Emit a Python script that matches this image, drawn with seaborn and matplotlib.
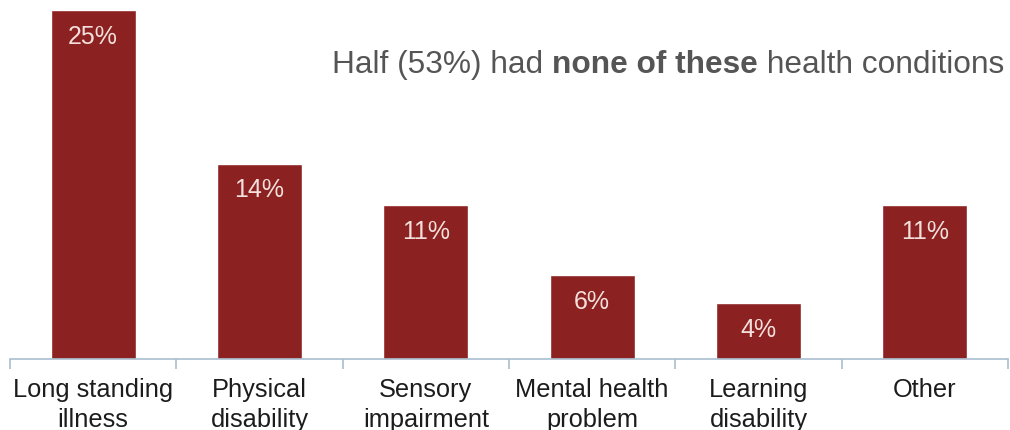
import matplotlib
matplotlib.use("Agg")
import matplotlib.pyplot as plt
import seaborn as sns
import pandas as pd
from matplotlib.ticker import FixedLocator

categories = ["Long standing\nillness", "Physical\ndisability", "Sensory\nimpairment",
              "Mental health\nproblem", "Learning\ndisability", "Other"]
values = [25, 14, 11, 6, 4, 11]
value_labels = ["25%", "14%", "11%", "6%", "4%", "11%"]
note_parts = [("Half (53%) had ", "normal"), ("none of these", "bold"), (" health conditions", "normal")]

sns.set_theme(style="white")
plt.rcParams["font.family"] = ["Liberation Sans", "DejaVu Sans"]

BAR = "#8C2121"
AXIS = "#A9BFD0"

df = pd.DataFrame({"category": categories, "value": values})

fig = plt.figure(figsize=(10.10, 4.31), dpi=100)
ax = fig.add_axes([10 / 1010, (431 - 360) / 431, 998 / 1010, (360 - 11) / 431])

sns.barplot(data=df, x="category", y="value", color=BAR, width=0.51,
            saturation=1, ax=ax)

ax.set_xlim(-0.5, len(categories) - 0.5)
ax.set_ylim(0, 25)
ax.set_xlabel("")
ax.set_ylabel("")
ax.set_yticks([])
for side in ("top", "right", "left"):
    ax.spines[side].set_visible(False)
ax.spines["bottom"].set_color(AXIS)
ax.spines["bottom"].set_linewidth(1.2)

ax.tick_params(axis="x", which="major", length=0, pad=13, labelsize=18.3,
               labelcolor="#1c1c1c")
for lbl in ax.get_xticklabels():
    lbl.set_linespacing(1.3)
ax.xaxis.set_minor_locator(FixedLocator([i - 0.5 for i in range(len(categories) + 1)]))
ax.tick_params(axis="x", which="minor", length=7, width=1.2, color=AXIS,
               direction="out", bottom=True)

for i, (v, lab) in enumerate(zip(values, value_labels)):
    ax.annotate(lab, (i, v), xytext=(0, -10), textcoords="offset points",
                ha="center", va="top", fontsize=18, color="#F3E0DC")

# Note line with a bold middle phrase, laid out piece by piece and fitted
# to the span between x=332 and x=1007 px
fig.canvas.draw()
renderer = fig.canvas.get_renderer()
x0, x1 = 332, 1007
y_px = 431 - 65
size = 23
widths = []
for txt, weight in note_parts:
    t = fig.text(0, 0, txt, fontsize=size, fontweight=weight)
    widths.append(t.get_window_extent(renderer=renderer).width)
    t.remove()
size = size * (x1 - x0) / sum(widths)
x_px = x0
for txt, weight in note_parts:
    t = fig.text(x_px / 1010, y_px / 431, txt, fontsize=size, fontweight=weight,
                 color="#555555", ha="left", va="center")
    x_px += t.get_window_extent(renderer=renderer).width

fig.savefig("out.png", dpi=100)
